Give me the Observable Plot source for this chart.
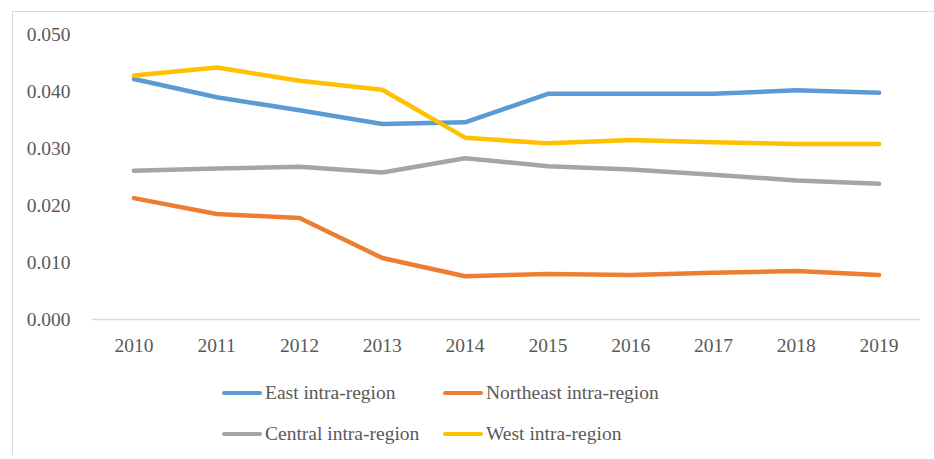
<!DOCTYPE html>
<html>
<head>
<meta charset="utf-8">
<script src="https://cdn.jsdelivr.net/npm/d3@7"></script>
<script src="https://cdn.jsdelivr.net/npm/@observablehq/plot@0.6"></script>
<style>
  html, body { margin: 0; padding: 0; background: #fff; }
  #wrap { position: relative; width: 934px; height: 459px; overflow: hidden; font-family: "Liberation Serif", serif; }
  #frame { position: absolute; left: 12px; top: 11px; right: -2px; bottom: 4px; border-left: 1.5px solid #d9d9d9; border-top: 1.5px solid #d9d9d9; }
  #chart { position: absolute; left: 0; top: 0; }
  #legend { position: absolute; left: 222px; top: 382px; display: grid; grid-template-columns: 221px auto; row-gap: 19px; color: #595959; font-size: 19.5px; }
  .item { display: flex; align-items: center; height: 22px; white-space: nowrap; }
  .sw { width: 40px; height: 4.5px; border-radius: 2px; margin-right: 3px; }
</style>
</head>
<body>
<div id="wrap">
  <div id="frame"></div>
  <div id="chart"></div>
  <div id="legend"></div>
</div>
<script>
const years = [2010, 2011, 2012, 2013, 2014, 2015, 2016, 2017, 2018, 2019];
const east      = [0.0422, 0.0390, 0.0367, 0.0343, 0.0346, 0.0396, 0.0396, 0.0396, 0.0402, 0.0398];
const northeast = [0.0213, 0.0185, 0.0178, 0.0108, 0.0076, 0.0080, 0.0078, 0.0082, 0.0085, 0.0078];
const central   = [0.0261, 0.0265, 0.0268, 0.0258, 0.0283, 0.0269, 0.0263, 0.0254, 0.0244, 0.0238];
const west      = [0.0428, 0.0442, 0.0419, 0.0403, 0.0319, 0.0309, 0.0315, 0.0311, 0.0308, 0.0308];
const seriesNames = ["East intra-region", "Northeast intra-region", "Central intra-region", "West intra-region"];
const seriesColors = ["#5b9bd5", "#ed7d31", "#a5a5a5", "#ffc000"];
const yTicks = [0, 0.01, 0.02, 0.03, 0.04, 0.05];

const seriesValues = [east, northeast, central, west];
const rows = [];
seriesNames.forEach((name, i) => {
  years.forEach((yr, j) => rows.push({series: name, year: String(yr), value: seriesValues[i][j]}));
});

const chart = Plot.plot({
  width: 934,
  height: 360,
  marginLeft: 92,
  marginRight: 14,
  marginTop: 34,
  marginBottom: 41,
  style: {fontFamily: "'Liberation Serif', serif", fontSize: "19.5px", color: "#595959", background: "transparent"},
  x: {type: "point", domain: years.map(String), padding: 0.5, round: false, label: null},
  y: {domain: [0, 0.05], label: null},
  color: {domain: seriesNames, range: seriesColors},
  marks: [
    Plot.ruleY([0], {stroke: "#d9d9d9", strokeWidth: 1.5}),
    Plot.axisY({ticks: yTicks, tickFormat: d3.format(".3f"), tickSize: 0, tickPadding: 22, label: null, fill: "#595959"}),
    Plot.axisX({tickSize: 0, tickPadding: 19, label: null, fill: "#595959"}),
    Plot.line(rows, {x: "year", y: "value", z: "series", stroke: "series", strokeWidth: 4.5, strokeLinejoin: "round", strokeLinecap: "round"})
  ]
});
document.getElementById("chart").appendChild(chart);

const legend = document.getElementById("legend");
seriesNames.forEach((name, i) => {
  const item = document.createElement("div");
  item.className = "item";
  const sw = document.createElement("span");
  sw.className = "sw";
  sw.style.background = seriesColors[i];
  const lab = document.createElement("span");
  lab.textContent = name;
  item.appendChild(sw);
  item.appendChild(lab);
  legend.appendChild(item);
});
</script>
</body>
</html>
